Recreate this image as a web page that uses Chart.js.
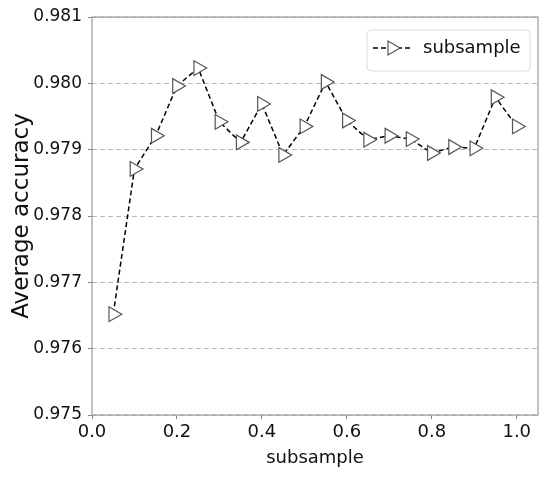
<!DOCTYPE html>
<html>
<head>
<meta charset="utf-8">
<script src="https://cdn.jsdelivr.net/npm/chart.js@4.4.0/dist/chart.umd.min.js"></script>
<style>
html,body{margin:0;padding:0;background:#fff;}
#wrap{width:550px;height:479px;}
</style>
</head>
<body>
<div id="wrap"><canvas id="accChart" width="550" height="479"></canvas></div>
<script>

// Data

const subsampleValues = [
0.05,0.10,0.15,0.20,0.25,0.30,0.35,0.40,0.45,0.50,
0.55,0.60,0.65,0.70,0.75,0.80,0.85,0.90,0.95,1.00
];

const accuracyValues = [
0.97652,0.97871,0.97921,0.97996,0.98023,0.97942,0.97911,0.97969,0.97892,0.97935,
0.98002,0.97944,0.97915,0.97921,0.97916,0.97895,0.97904,0.97902,0.97979,0.97935
];

const seriesLabel = "subsample";

const fontFamily = "'DejaVu Sans', sans-serif";

// frame + legend box drawn on top

const framePlugin = {

id:"frame",

afterDraw(chart){

const ctx = chart.ctx;
const a = chart.chartArea;

ctx.save();
ctx.strokeStyle = "#9a9a9a";
ctx.lineWidth = 1.2;
ctx.strokeRect(a.left, a.top, a.right - a.left, a.bottom - a.top);

// legend
const bx = 367, by = 30, bw = 163, bh = 41;
ctx.fillStyle = "rgba(255,255,255,0.9)";
ctx.strokeStyle = "#dcdcdc";
ctx.lineWidth = 1;
ctx.beginPath();
ctx.roundRect(bx, by, bw, bh, 4);
ctx.fill();
ctx.stroke();

const ly = by + 18;
ctx.strokeStyle = "#000";
ctx.lineWidth = 1.5;
ctx.setLineDash([5,3]);
ctx.beginPath();
ctx.moveTo(bx + 6, ly);
ctx.lineTo(bx + 44, ly);
ctx.stroke();
ctx.setLineDash([]);

// right-pointing triangle marker
const cx = bx + 25, r = 8;
ctx.fillStyle = "#fff";
ctx.strokeStyle = "#555";
ctx.lineWidth = 1.2;
ctx.beginPath();
ctx.moveTo(cx + r, ly);
ctx.lineTo(cx - r * 0.5, ly - r * 0.866);
ctx.lineTo(cx - r * 0.5, ly + r * 0.866);
ctx.closePath();
ctx.fill();
ctx.stroke();

ctx.fillStyle = "#111";
ctx.font = "18px " + fontFamily;
ctx.textBaseline = "middle";
ctx.textAlign = "left";
ctx.fillText(seriesLabel, bx + 56, ly);

ctx.restore();

}

};

const accChart =
document.getElementById("accChart");

if(accChart){

new Chart(accChart,{

type:"line",

data:{

datasets:[{

label:seriesLabel,

data:subsampleValues.map((x,i)=>({x:x, y:accuracyValues[i]})),

borderColor:"#000",

borderWidth:1.5,

borderDash:[5,3],

pointStyle:"triangle",

rotation:90,

pointRadius:8.5,

pointBorderColor:"#555",

pointBackgroundColor:"#fff",

pointBorderWidth:1.2,

tension:0,

fill:false

}]

},

options:{

responsive:false,

animation:false,

layout:{

padding:{top:17, right:12, left:8, bottom:10}

},

plugins:{

legend:{display:false},

tooltip:{enabled:false}

},

scales:{

x:{

type:"linear",

min:0,

max:1.05,

afterFit:s=>{ s.height = 54; },

ticks:{

stepSize:0.2,

includeBounds:false,

color:"#111",

padding:3,

font:{family:fontFamily, size:18},

callback:v=>v.toFixed(1)

},

grid:{

drawOnChartArea:false,

color:"#888",

tickLength:4

},

border:{display:false},

title:{

display:true,

text:"subsample",

color:"#111",

font:{family:fontFamily, size:18},

padding:{top:0, bottom:0}

}

},

y:{

min:0.975,

max:0.981,

afterFit:s=>{ s.width = 84; },

ticks:{

stepSize:0.001,

color:"#111",

padding:6,

font:{family:fontFamily, size:17},

callback:v=>v.toFixed(3)

},

grid:{

color:"#a9c0bc",

tickColor:"#888",

tickLength:4,

lineWidth:1

},

border:{display:false, dash:[5,3]},

title:{

display:true,

text:"Average accuracy",

color:"#111",

font:{family:fontFamily, size:23},

padding:{top:0, bottom:0}

}

}

}

},

plugins:[framePlugin]

});

}

</script>
</body>
</html>
